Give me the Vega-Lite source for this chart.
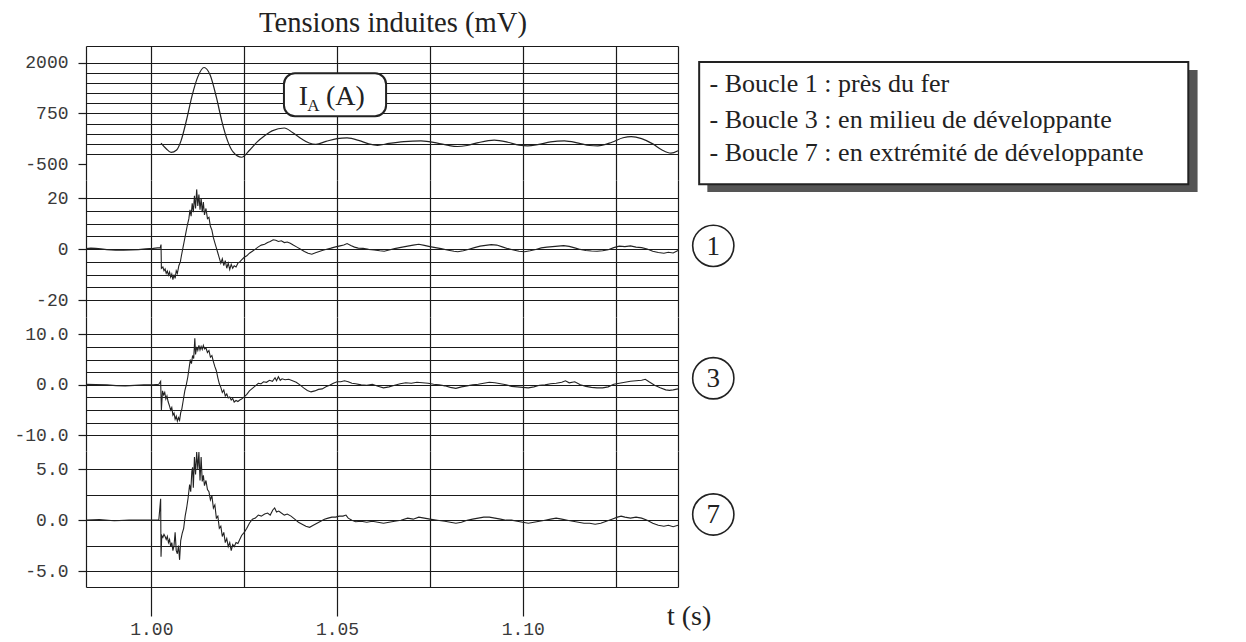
{
"$schema": "https://vega.github.io/schema/vega-lite/v6.json",
"background": "white",
"padding": {"left": 13, "top": 9, "right": 10, "bottom": 10},
"bounds": "flush",
"spacing": 0,
"title": {"text": "Tensions induites (mV)", "font": "Liberation Serif", "fontSize": 28.6, "fontWeight": "normal", "color": "#222", "anchor": "middle", "frame": "group", "offset": -1, "dx": 11},
"config": {
 "view": {"stroke": null},
 "axis": {"labelFont": "Liberation Mono", "labelFontSize": 18, "labelColor": "#3a3a3a", "gridColor": "#1a1a1a", "gridOpacity": 1, "gridWidth": 1.2, "tickColor": "#1a1a1a", "tickWidth": 1.2, "domainColor": "#1a1a1a", "domainWidth": 1.2, "labelOverlap": false, "labelBound": false, "labelFlush": false, "tickCount": 100}
},
"datasets": {
 "ia": [
  {"t":1.0026,"v":20},{"t":1.0040,"v":-120},{"t":1.0053,"v":-210},{"t":1.0068,"v":-150},{"t":1.0080,"v":80},{"t":1.0095,"v":600},{"t":1.0110,"v":1200},{"t":1.0125,"v":1650},{"t":1.0142,"v":1880},{"t":1.0158,"v":1700},{"t":1.0175,"v":1150},{"t":1.0190,"v":550},{"t":1.0205,"v":80},{"t":1.0220,"v":-200},{"t":1.0243,"v":-330},{"t":1.0265,"v":-150},{"t":1.0285,"v":50},{"t":1.0305,"v":200},{"t":1.0325,"v":320},{"t":1.0358,"v":390},{"t":1.0380,"v":280},{"t":1.0405,"v":120},{"t":1.0425,"v":20},{"t":1.0443,"v":-10},{"t":1.0470,"v":60},{"t":1.0500,"v":130},{"t":1.0527,"v":145},{"t":1.0560,"v":80},{"t":1.0585,"v":0},{"t":1.0609,"v":-35},{"t":1.0640,"v":10},{"t":1.0680,"v":55},{"t":1.0726,"v":75},{"t":1.0770,"v":20},{"t":1.0800,"v":-40},{"t":1.0824,"v":-65},{"t":1.0850,"v":-40},{"t":1.0880,"v":30},{"t":1.0923,"v":90},{"t":1.0960,"v":40},{"t":1.0990,"v":-30},{"t":1.1013,"v":-50},{"t":1.1040,"v":-20},{"t":1.1075,"v":50},{"t":1.1112,"v":75},{"t":1.1150,"v":20},{"t":1.1180,"v":-40},{"t":1.1202,"v":-50},{"t":1.1240,"v":40},{"t":1.1270,"v":150},{"t":1.1292,"v":180},{"t":1.1320,"v":130},{"t":1.1350,"v":0},{"t":1.1375,"v":-150},{"t":1.1399,"v":-230},{"t":1.1418,"v":-170}
 ],
 "b1": [
  {"t":0.9824,"v":0.2},{"t":0.9837,"v":0.4},{"t":0.9850,"v":0.3},{"t":0.9864,"v":0.1},{"t":0.9880,"v":-0.2},{"t":0.9904,"v":-0.4},{"t":0.9925,"v":-0.4},{"t":0.9945,"v":-0.3},{"t":0.9965,"v":-0.2},{"t":0.9985,"v":0.1},{"t":1.0005,"v":0.3},{"t":1.0017,"v":0.5},{"t":1.0024,"v":0.6},{"t":1.0026,"v":1.8},{"t":1.0027,"v":-7.5},{"t":1.0031,"v":-7.0},{"t":1.0034,"v":-8.5},{"t":1.0037,"v":-7.8},{"t":1.0040,"v":-9.5},{"t":1.0043,"v":-8.6},{"t":1.0046,"v":-10.2},{"t":1.0049,"v":-9.0},{"t":1.0052,"v":-11.0},{"t":1.0055,"v":-9.8},{"t":1.0058,"v":-12.0},{"t":1.0061,"v":-10.0},{"t":1.0064,"v":-11.5},{"t":1.0067,"v":-8.5},{"t":1.0070,"v":-9.5},{"t":1.0074,"v":-6.5},{"t":1.0078,"v":-5.0},{"t":1.0081,"v":-2.5},{"t":1.0085,"v":0.5},{"t":1.0089,"v":3.5},{"t":1.0093,"v":6.5},{"t":1.0097,"v":9.5},{"t":1.0101,"v":12.0},{"t":1.0104,"v":15.5},{"t":1.0107,"v":13.0},{"t":1.0110,"v":18.0},{"t":1.0113,"v":14.5},{"t":1.0116,"v":21.0},{"t":1.0119,"v":16.0},{"t":1.0122,"v":23.5},{"t":1.0125,"v":17.0},{"t":1.0128,"v":21.5},{"t":1.0131,"v":15.5},{"t":1.0134,"v":20.0},{"t":1.0137,"v":14.5},{"t":1.0140,"v":18.5},{"t":1.0143,"v":13.5},{"t":1.0147,"v":16.0},{"t":1.0151,"v":12.0},{"t":1.0155,"v":12.5},{"t":1.0159,"v":9.0},{"t":1.0163,"v":7.5},{"t":1.0167,"v":4.5},{"t":1.0171,"v":2.5},{"t":1.0175,"v":0.5},{"t":1.0179,"v":-1.5},{"t":1.0183,"v":-3.5},{"t":1.0187,"v":-5.5},{"t":1.0191,"v":-3.8},{"t":1.0195,"v":-6.5},{"t":1.0199,"v":-4.5},{"t":1.0203,"v":-7.5},{"t":1.0207,"v":-5.5},{"t":1.0211,"v":-8.0},{"t":1.0215,"v":-6.0},{"t":1.0219,"v":-7.5},{"t":1.0223,"v":-6.5},{"t":1.0228,"v":-7.0},{"t":1.0233,"v":-5.5},{"t":1.0238,"v":-5.0},{"t":1.0243,"v":-4.2},{"t":1.0250,"v":-3.2},{"t":1.0257,"v":-2.6},{"t":1.0264,"v":-1.6},{"t":1.0272,"v":-0.8},{"t":1.0280,"v":0.0},{"t":1.0288,"v":0.9},{"t":1.0296,"v":1.6},{"t":1.0305,"v":1.9},{"t":1.0313,"v":2.6},{"t":1.0320,"v":3.0},{"t":1.0328,"v":3.7},{"t":1.0335,"v":3.5},{"t":1.0342,"v":3.0},{"t":1.0350,"v":3.3},{"t":1.0358,"v":2.6},{"t":1.0366,"v":2.8},{"t":1.0374,"v":2.3},{"t":1.0382,"v":1.6},{"t":1.0392,"v":0.8},{"t":1.0402,"v":0.0},{"t":1.0412,"v":-0.9},{"t":1.0422,"v":-1.6},{"t":1.0432,"v":-2.0},{"t":1.0442,"v":-1.4},{"t":1.0452,"v":-0.9},{"t":1.0462,"v":-0.4},{"t":1.0472,"v":0.0},{"t":1.0484,"v":0.4},{"t":1.0496,"v":0.9},{"t":1.0508,"v":1.3},{"t":1.0518,"v":1.6},{"t":1.0527,"v":2.2},{"t":1.0537,"v":1.4},{"t":1.0547,"v":0.8},{"t":1.0557,"v":0.4},{"t":1.0570,"v":0.3},{"t":1.0585,"v":-0.1},{"t":1.0600,"v":-0.3},{"t":1.0615,"v":-0.6},{"t":1.0627,"v":-0.8},{"t":1.0640,"v":-0.3},{"t":1.0655,"v":0.2},{"t":1.0672,"v":0.7},{"t":1.0690,"v":1.2},{"t":1.0705,"v":1.6},{"t":1.0720,"v":1.9},{"t":1.0735,"v":1.5},{"t":1.0750,"v":1.0},{"t":1.0765,"v":0.6},{"t":1.0780,"v":0.2},{"t":1.0800,"v":-0.4},{"t":1.0815,"v":-0.8},{"t":1.0825,"v":-1.0},{"t":1.0840,"v":-0.6},{"t":1.0855,"v":0.0},{"t":1.0870,"v":0.6},{"t":1.0885,"v":1.2},{"t":1.0900,"v":1.5},{"t":1.0915,"v":1.8},{"t":1.0930,"v":1.6},{"t":1.0945,"v":0.9},{"t":1.0960,"v":0.2},{"t":1.0975,"v":-0.3},{"t":1.0990,"v":-0.8},{"t":1.1005,"v":-1.0},{"t":1.1020,"v":-0.6},{"t":1.1035,"v":-0.1},{"t":1.1050,"v":0.5},{"t":1.1065,"v":0.8},{"t":1.1080,"v":1.0},{"t":1.1095,"v":1.2},{"t":1.1110,"v":1.4},{"t":1.1125,"v":1.1},{"t":1.1140,"v":0.5},{"t":1.1155,"v":-0.1},{"t":1.1170,"v":-0.5},{"t":1.1185,"v":-0.7},{"t":1.1200,"v":-0.8},{"t":1.1215,"v":-0.6},{"t":1.1230,"v":-0.2},{"t":1.1245,"v":0.6},{"t":1.1260,"v":1.2},{"t":1.1275,"v":1.0},{"t":1.1290,"v":1.3},{"t":1.1305,"v":0.8},{"t":1.1320,"v":0.6},{"t":1.1335,"v":0.1},{"t":1.1350,"v":-0.8},{"t":1.1365,"v":-1.3},{"t":1.1380,"v":-1.6},{"t":1.1392,"v":-1.2},{"t":1.1405,"v":-1.5},{"t":1.1418,"v":-0.5}
 ],
 "b3": [
  {"t":0.9824,"v":0.1},{"t":0.9850,"v":0.05},{"t":0.9880,"v":0.0},{"t":0.9905,"v":-0.15},{"t":0.9930,"v":-0.2},{"t":0.9955,"v":-0.1},{"t":0.9980,"v":0.0},{"t":1.0005,"v":0.0},{"t":1.0020,"v":0.1},{"t":1.0025,"v":0.7},{"t":1.0027,"v":-5.0},{"t":1.0030,"v":-1.2},{"t":1.0033,"v":-2.0},{"t":1.0036,"v":-1.5},{"t":1.0039,"v":-2.8},{"t":1.0042,"v":-2.2},{"t":1.0045,"v":-3.3},{"t":1.0049,"v":-4.2},{"t":1.0052,"v":-5.0},{"t":1.0055,"v":-4.5},{"t":1.0058,"v":-6.0},{"t":1.0061,"v":-5.6},{"t":1.0064,"v":-6.8},{"t":1.0067,"v":-6.2},{"t":1.0070,"v":-7.2},{"t":1.0073,"v":-6.5},{"t":1.0076,"v":-7.0},{"t":1.0079,"v":-5.5},{"t":1.0082,"v":-4.8},{"t":1.0086,"v":-3.0},{"t":1.0090,"v":-1.2},{"t":1.0094,"v":0.0},{"t":1.0098,"v":1.5},{"t":1.0102,"v":3.5},{"t":1.0105,"v":5.0},{"t":1.0108,"v":4.2},{"t":1.0111,"v":5.8},{"t":1.0114,"v":5.2},{"t":1.0117,"v":9.2},{"t":1.0119,"v":6.0},{"t":1.0122,"v":7.5},{"t":1.0125,"v":6.8},{"t":1.0128,"v":7.8},{"t":1.0131,"v":6.9},{"t":1.0134,"v":7.6},{"t":1.0137,"v":7.0},{"t":1.0140,"v":7.8},{"t":1.0143,"v":7.1},{"t":1.0147,"v":7.3},{"t":1.0151,"v":6.4},{"t":1.0155,"v":6.8},{"t":1.0159,"v":5.5},{"t":1.0163,"v":5.8},{"t":1.0167,"v":4.6},{"t":1.0171,"v":3.6},{"t":1.0175,"v":2.8},{"t":1.0179,"v":1.4},{"t":1.0183,"v":0.2},{"t":1.0187,"v":-0.5},{"t":1.0191,"v":-1.5},{"t":1.0195,"v":-1.0},{"t":1.0199,"v":-2.2},{"t":1.0203,"v":-1.8},{"t":1.0207,"v":-2.6},{"t":1.0211,"v":-2.4},{"t":1.0215,"v":-3.0},{"t":1.0219,"v":-2.7},{"t":1.0223,"v":-3.4},{"t":1.0228,"v":-3.1},{"t":1.0233,"v":-3.3},{"t":1.0238,"v":-3.0},{"t":1.0243,"v":-2.8},{"t":1.0250,"v":-2.4},{"t":1.0257,"v":-1.9},{"t":1.0264,"v":-1.2},{"t":1.0272,"v":-0.7},{"t":1.0280,"v":-0.2},{"t":1.0288,"v":0.3},{"t":1.0295,"v":0.2},{"t":1.0302,"v":0.6},{"t":1.0310,"v":0.5},{"t":1.0318,"v":0.9},{"t":1.0326,"v":0.7},{"t":1.0333,"v":1.4},{"t":1.0337,"v":0.8},{"t":1.0342,"v":1.6},{"t":1.0347,"v":0.9},{"t":1.0352,"v":1.2},{"t":1.0360,"v":1.0},{"t":1.0370,"v":1.1},{"t":1.0380,"v":0.8},{"t":1.0390,"v":0.5},{"t":1.0400,"v":0.0},{"t":1.0410,"v":-0.6},{"t":1.0420,"v":-1.1},{"t":1.0430,"v":-1.4},{"t":1.0440,"v":-1.2},{"t":1.0450,"v":-0.9},{"t":1.0460,"v":-0.8},{"t":1.0470,"v":-0.4},{"t":1.0480,"v":-0.1},{"t":1.0490,"v":0.3},{"t":1.0500,"v":0.6},{"t":1.0510,"v":0.6},{"t":1.0520,"v":0.8},{"t":1.0530,"v":0.6},{"t":1.0540,"v":0.3},{"t":1.0550,"v":0.2},{"t":1.0565,"v":0.0},{"t":1.0580,"v":-0.1},{"t":1.0595,"v":0.1},{"t":1.0610,"v":-0.3},{"t":1.0625,"v":-0.6},{"t":1.0640,"v":-0.4},{"t":1.0655,"v":-0.1},{"t":1.0670,"v":0.2},{"t":1.0685,"v":0.4},{"t":1.0700,"v":0.3},{"t":1.0715,"v":0.5},{"t":1.0730,"v":0.4},{"t":1.0745,"v":0.3},{"t":1.0760,"v":0.1},{"t":1.0775,"v":0.0},{"t":1.0790,"v":-0.2},{"t":1.0805,"v":-0.5},{"t":1.0820,"v":-0.7},{"t":1.0835,"v":-0.4},{"t":1.0850,"v":-0.2},{"t":1.0865,"v":0.0},{"t":1.0880,"v":0.1},{"t":1.0895,"v":0.3},{"t":1.0910,"v":0.5},{"t":1.0925,"v":0.4},{"t":1.0940,"v":0.2},{"t":1.0955,"v":0.0},{"t":1.0970,"v":-0.3},{"t":1.0985,"v":-0.4},{"t":1.1000,"v":-0.5},{"t":1.1015,"v":-0.6},{"t":1.1030,"v":-0.4},{"t":1.1045,"v":-0.1},{"t":1.1060,"v":0.0},{"t":1.1075,"v":0.2},{"t":1.1090,"v":0.3},{"t":1.1105,"v":0.5},{"t":1.1115,"v":0.8},{"t":1.1125,"v":0.4},{"t":1.1140,"v":0.6},{"t":1.1155,"v":0.0},{"t":1.1170,"v":-0.3},{"t":1.1185,"v":-0.5},{"t":1.1200,"v":-0.6},{"t":1.1215,"v":-0.6},{"t":1.1230,"v":-0.4},{"t":1.1245,"v":0.1},{"t":1.1260,"v":0.3},{"t":1.1275,"v":0.5},{"t":1.1290,"v":0.7},{"t":1.1305,"v":0.8},{"t":1.1320,"v":0.9},{"t":1.1330,"v":1.1},{"t":1.1340,"v":0.6},{"t":1.1355,"v":-0.1},{"t":1.1370,"v":-0.6},{"t":1.1385,"v":-1.0},{"t":1.1395,"v":-1.1},{"t":1.1405,"v":-1.0},{"t":1.1418,"v":-0.8}
 ],
 "b7": [
  {"t":0.9824,"v":0.0},{"t":0.9860,"v":0.05},{"t":0.9900,"v":-0.05},{"t":0.9940,"v":0.0},{"t":0.9980,"v":0.0},{"t":1.0020,"v":0.0},{"t":1.0025,"v":2.1},{"t":1.0026,"v":-3.6},{"t":1.0028,"v":-1.5},{"t":1.0031,"v":-1.7},{"t":1.0034,"v":-1.4},{"t":1.0037,"v":-1.6},{"t":1.0040,"v":-1.9},{"t":1.0043,"v":-1.6},{"t":1.0046,"v":-2.2},{"t":1.0049,"v":-1.9},{"t":1.0052,"v":-2.6},{"t":1.0055,"v":-2.2},{"t":1.0058,"v":-3.0},{"t":1.0061,"v":-2.5},{"t":1.0064,"v":-1.2},{"t":1.0067,"v":-3.0},{"t":1.0070,"v":-3.3},{"t":1.0073,"v":-2.5},{"t":1.0076,"v":-3.9},{"t":1.0079,"v":-2.0},{"t":1.0083,"v":-1.3},{"t":1.0087,"v":-0.8},{"t":1.0091,"v":0.4},{"t":1.0095,"v":1.2},{"t":1.0099,"v":2.2},{"t":1.0103,"v":3.5},{"t":1.0106,"v":2.8},{"t":1.0109,"v":4.8},{"t":1.0111,"v":5.2},{"t":1.0113,"v":3.2},{"t":1.0116,"v":6.2},{"t":1.0119,"v":4.5},{"t":1.0122,"v":6.7},{"t":1.0125,"v":5.0},{"t":1.0128,"v":6.7},{"t":1.0131,"v":3.9},{"t":1.0134,"v":6.2},{"t":1.0137,"v":3.8},{"t":1.0140,"v":4.4},{"t":1.0143,"v":3.4},{"t":1.0147,"v":3.9},{"t":1.0151,"v":3.0},{"t":1.0155,"v":2.8},{"t":1.0159,"v":2.0},{"t":1.0163,"v":2.4},{"t":1.0167,"v":1.2},{"t":1.0171,"v":1.5},{"t":1.0175,"v":0.2},{"t":1.0179,"v":0.4},{"t":1.0183,"v":-0.8},{"t":1.0187,"v":-0.6},{"t":1.0191,"v":-1.6},{"t":1.0195,"v":-1.2},{"t":1.0199,"v":-2.2},{"t":1.0203,"v":-1.8},{"t":1.0207,"v":-2.6},{"t":1.0211,"v":-2.2},{"t":1.0215,"v":-3.0},{"t":1.0219,"v":-2.4},{"t":1.0223,"v":-2.6},{"t":1.0228,"v":-2.2},{"t":1.0233,"v":-2.3},{"t":1.0238,"v":-1.9},{"t":1.0243,"v":-1.5},{"t":1.0250,"v":-1.2},{"t":1.0257,"v":-0.8},{"t":1.0264,"v":-0.3},{"t":1.0272,"v":0.1},{"t":1.0280,"v":0.2},{"t":1.0288,"v":0.5},{"t":1.0296,"v":0.4},{"t":1.0305,"v":0.6},{"t":1.0313,"v":0.7},{"t":1.0320,"v":0.5},{"t":1.0327,"v":1.0},{"t":1.0332,"v":1.2},{"t":1.0337,"v":0.8},{"t":1.0343,"v":0.9},{"t":1.0350,"v":0.7},{"t":1.0358,"v":0.5},{"t":1.0366,"v":0.6},{"t":1.0376,"v":0.4},{"t":1.0386,"v":0.1},{"t":1.0396,"v":-0.2},{"t":1.0406,"v":-0.4},{"t":1.0416,"v":-0.6},{"t":1.0426,"v":-0.7},{"t":1.0436,"v":-0.5},{"t":1.0446,"v":-0.3},{"t":1.0456,"v":-0.1},{"t":1.0466,"v":0.1},{"t":1.0476,"v":0.2},{"t":1.0486,"v":0.3},{"t":1.0496,"v":0.3},{"t":1.0506,"v":0.4},{"t":1.0516,"v":0.4},{"t":1.0524,"v":0.5},{"t":1.0530,"v":0.2},{"t":1.0540,"v":0.0},{"t":1.0550,"v":-0.15},{"t":1.0565,"v":-0.1},{"t":1.0580,"v":-0.2},{"t":1.0595,"v":-0.1},{"t":1.0610,"v":-0.2},{"t":1.0625,"v":-0.3},{"t":1.0640,"v":-0.2},{"t":1.0655,"v":-0.1},{"t":1.0672,"v":0.0},{"t":1.0690,"v":0.2},{"t":1.0705,"v":0.1},{"t":1.0720,"v":0.3},{"t":1.0735,"v":0.2},{"t":1.0750,"v":0.1},{"t":1.0770,"v":0.0},{"t":1.0790,"v":-0.1},{"t":1.0805,"v":-0.2},{"t":1.0820,"v":-0.3},{"t":1.0835,"v":-0.2},{"t":1.0850,"v":0.0},{"t":1.0865,"v":0.1},{"t":1.0880,"v":0.2},{"t":1.0895,"v":0.3},{"t":1.0910,"v":0.3},{"t":1.0925,"v":0.2},{"t":1.0940,"v":0.1},{"t":1.0955,"v":0.0},{"t":1.0970,"v":0.0},{"t":1.0985,"v":-0.1},{"t":1.1000,"v":-0.2},{"t":1.1015,"v":-0.3},{"t":1.1030,"v":-0.2},{"t":1.1045,"v":-0.1},{"t":1.1060,"v":0.0},{"t":1.1075,"v":0.1},{"t":1.1090,"v":0.2},{"t":1.1105,"v":0.1},{"t":1.1120,"v":0.0},{"t":1.1135,"v":-0.1},{"t":1.1150,"v":-0.2},{"t":1.1165,"v":-0.3},{"t":1.1180,"v":-0.3},{"t":1.1195,"v":-0.4},{"t":1.1210,"v":-0.3},{"t":1.1225,"v":-0.1},{"t":1.1240,"v":0.1},{"t":1.1255,"v":0.3},{"t":1.1265,"v":0.4},{"t":1.1275,"v":0.3},{"t":1.1290,"v":0.2},{"t":1.1305,"v":0.3},{"t":1.1320,"v":0.2},{"t":1.1335,"v":0.0},{"t":1.1350,"v":-0.3},{"t":1.1365,"v":-0.5},{"t":1.1380,"v":-0.6},{"t":1.1392,"v":-0.5},{"t":1.1405,"v":-0.65},{"t":1.1418,"v":-0.5}
 ],
 "iabox": [{"t":1.0357,"t2":1.0632,"v":1738,"v2":679}],
 "iaI": [{"t":1.0397,"v":950,"label":"I"}],
 "iaSub": [{"t":1.0420,"v":800,"label":"A"}],
 "iaRest": [{"t":1.0470,"v":950,"label":"(A)"}],
 "lshadow": [{"t":1.1497,"t2":1.2817,"v":1819,"v2":-1186}],
 "lbox": [{"t":1.1475,"t2":1.2792,"v":2016,"v2":-996}],
 "ltext": [
  {"t":1.1503,"v":1270,"label":"- Boucle 1 : près du fer"},
  {"t":1.1503,"v":383,"label":"- Boucle 3 : en milieu de développante"},
  {"t":1.1503,"v":-430,"label":"- Boucle 7 : en extrémité de développante"}
 ],
 "c1": [{"t":1.1513,"v":1.3,"label":"1"}],
 "c3": [{"t":1.1513,"v":1.3,"label":"3"}],
 "c7": [{"t":1.1513,"v":0.56,"label":"7"}],
 "tlab": [{"t":1.1448,"v":-10.3,"label":"t (s)"}]
},
"vconcat": [
 {
  "width": 592, "height": 134,
  "layer": [
   {"data": {"name": "ia"}, "mark": {"type": "line", "color": "#222", "strokeWidth": 1.2, "interpolate": "monotone"},
    "encoding": {
     "x": {"field": "t", "type": "quantitative", "scale": {"domain": [0.9824, 1.1418], "nice": false, "zero": false},
      "axis": {"title": null, "values": [0.9824, 1.0, 1.025, 1.05, 1.075, 1.1, 1.125, 1.1418], "grid": true, "labels": false, "ticks": false, "domain": false, "tickCount": 100}},
     "y": {"field": "v", "type": "quantitative", "scale": {"domain": [-890, 2410], "nice": false, "zero": false},
      "axis": {"title": null, "values": [2410, 2000, 1750, 1500, 1250, 1000, 750, 500, 250, 0, -250, -500], "tickCount": 100, "grid": true, "domain": false, "tickSize": 8, "labelPadding": 10,
       "labelExpr": "(datum.value==2000||datum.value==750||datum.value==-500) ? replace(format(datum.value,'d'),'−','-') : ''",
       "tickOpacity": {"condition": {"test": "datum.value==2000||datum.value==750||datum.value==-500", "value": 1}, "value": 0},
       "gridOpacity": {"condition": {"test": "datum.value==-500", "value": 0}, "value": 1}}}
    }},
   {"data": {"name": "iabox"}, "mark": {"type": "rect", "fill": "white", "stroke": "#222", "strokeWidth": 2, "cornerRadius": 11},
    "encoding": {"x": {"field": "t", "type": "quantitative"}, "x2": {"field": "t2"}, "y": {"field": "v", "type": "quantitative"}, "y2": {"field": "v2"}}},
   {"data": {"name": "iaI"}, "mark": {"type": "text", "font": "Liberation Serif", "fontSize": 28, "color": "#222", "align": "left", "baseline": "alphabetic"},
    "encoding": {"x": {"field": "t", "type": "quantitative"}, "y": {"field": "v", "type": "quantitative"}, "text": {"field": "label"}}},
   {"data": {"name": "iaSub"}, "mark": {"type": "text", "font": "Liberation Serif", "fontSize": 17, "color": "#222", "align": "left", "baseline": "alphabetic"},
    "encoding": {"x": {"field": "t", "type": "quantitative"}, "y": {"field": "v", "type": "quantitative"}, "text": {"field": "label"}}},
   {"data": {"name": "iaRest"}, "mark": {"type": "text", "font": "Liberation Serif", "fontSize": 28, "color": "#222", "align": "left", "baseline": "alphabetic"},
    "encoding": {"x": {"field": "t", "type": "quantitative"}, "y": {"field": "v", "type": "quantitative"}, "text": {"field": "label"}}},
   {"data": {"name": "lshadow"}, "mark": {"type": "rect", "fill": "#555", "stroke": null},
    "encoding": {"x": {"field": "t", "type": "quantitative"}, "x2": {"field": "t2"}, "y": {"field": "v", "type": "quantitative"}, "y2": {"field": "v2"}}},
   {"data": {"name": "lbox"}, "mark": {"type": "rect", "fill": "white", "stroke": "#222", "strokeWidth": 2},
    "encoding": {"x": {"field": "t", "type": "quantitative"}, "x2": {"field": "t2"}, "y": {"field": "v", "type": "quantitative"}, "y2": {"field": "v2"}}},
   {"data": {"name": "ltext"}, "mark": {"type": "text", "font": "Liberation Serif", "fontSize": 26, "color": "#222", "align": "left", "baseline": "alphabetic"},
    "encoding": {"x": {"field": "t", "type": "quantitative"}, "y": {"field": "v", "type": "quantitative"}, "text": {"field": "label"}}}
  ]
 },
 {
  "width": 592, "height": 137,
  "layer": [
   {"data": {"name": "b1"}, "mark": {"type": "line", "color": "#222", "strokeWidth": 1.1},
    "encoding": {
     "x": {"field": "t", "type": "quantitative", "scale": {"domain": [0.9824, 1.1418], "nice": false, "zero": false},
      "axis": {"title": null, "values": [0.9824, 1.0, 1.025, 1.05, 1.075, 1.1, 1.125, 1.1418], "grid": true, "labels": false, "ticks": false, "domain": false, "tickCount": 100}},
     "y": {"field": "v", "type": "quantitative", "scale": {"domain": [-26.68, 27.2], "nice": false, "zero": false},
      "axis": {"title": null, "values": [20, 15, 10, 5, 0, -5, -10, -15, -20], "tickCount": 100, "grid": true, "domain": false, "tickSize": 8, "labelPadding": 10,
       "labelExpr": "(datum.value==20||datum.value==0||datum.value==-20) ? replace(format(datum.value,'d'),'−','-') : ''",
       "tickOpacity": {"condition": {"test": "datum.value==20||datum.value==0||datum.value==-20", "value": 1}, "value": 0}}}
    }},
   {"data": {"name": "c1"}, "mark": {"type": "point", "shape": "circle", "size": 1700, "filled": false, "stroke": "#222", "strokeWidth": 1.6, "opacity": 1},
    "encoding": {"x": {"field": "t", "type": "quantitative"}, "y": {"field": "v", "type": "quantitative"}}},
   {"data": {"name": "c1"}, "mark": {"type": "text", "font": "Liberation Serif", "fontSize": 27, "color": "#222", "align": "center", "baseline": "middle", "dy": 1},
    "encoding": {"x": {"field": "t", "type": "quantitative"}, "y": {"field": "v", "type": "quantitative"}, "text": {"field": "label"}}}
  ]
 },
 {
  "width": 592, "height": 134,
  "layer": [
   {"data": {"name": "b3"}, "mark": {"type": "line", "color": "#222", "strokeWidth": 1.1},
    "encoding": {
     "x": {"field": "t", "type": "quantitative", "scale": {"domain": [0.9824, 1.1418], "nice": false, "zero": false},
      "axis": {"title": null, "values": [0.9824, 1.0, 1.025, 1.05, 1.075, 1.1, 1.125, 1.1418], "grid": true, "labels": false, "ticks": false, "domain": false, "tickCount": 100}},
     "y": {"field": "v", "type": "quantitative", "scale": {"domain": [-13.1, 13.43], "nice": false, "zero": false},
      "axis": {"title": null, "values": [10, 7.5, 5, 2.5, 0, -2.5, -5, -7.5, -10], "tickCount": 100, "grid": true, "domain": false, "tickSize": 8, "labelPadding": 10,
       "labelExpr": "(datum.value==10||datum.value==0||datum.value==-10) ? replace(format(datum.value,'.1f'),'−','-') : ''",
       "tickOpacity": {"condition": {"test": "datum.value==10||datum.value==0||datum.value==-10", "value": 1}, "value": 0}}}
    }},
   {"data": {"name": "c3"}, "mark": {"type": "point", "shape": "circle", "size": 1700, "filled": false, "stroke": "#222", "strokeWidth": 1.6, "opacity": 1},
    "encoding": {"x": {"field": "t", "type": "quantitative"}, "y": {"field": "v", "type": "quantitative"}}},
   {"data": {"name": "c3"}, "mark": {"type": "text", "font": "Liberation Serif", "fontSize": 27, "color": "#222", "align": "center", "baseline": "middle", "dy": 1},
    "encoding": {"x": {"field": "t", "type": "quantitative"}, "y": {"field": "v", "type": "quantitative"}, "text": {"field": "label"}}}
  ]
 },
 {
  "width": 592, "height": 136,
  "layer": [
   {"data": {"name": "b7"}, "mark": {"type": "line", "color": "#222", "strokeWidth": 1.1},
    "encoding": {
     "x": {"field": "t", "type": "quantitative", "scale": {"domain": [0.9824, 1.1418], "nice": false, "zero": false},
      "axis": {"title": null, "values": [0.9824, 1.0, 1.025, 1.05, 1.075, 1.1, 1.125, 1.1418], "tickCount": 100, "grid": true, "domain": true, "tickSize": 29, "labelPadding": 4,
       "labelExpr": "(abs(datum.value-1.0)<0.0001||abs(datum.value-1.05)<0.0001||abs(datum.value-1.1)<0.0001) ? format(datum.value,'.2f') : ''",
       "tickOpacity": {"condition": {"test": "abs(datum.value-1.0)<0.0001||abs(datum.value-1.05)<0.0001||abs(datum.value-1.1)<0.0001", "value": 1}, "value": 0}}},
     "y": {"field": "v", "type": "quantitative", "scale": {"domain": [-6.57, 6.8], "nice": false, "zero": false},
      "axis": {"title": null, "values": [5, 2.5, 0, -2.5, -5], "tickCount": 100, "grid": true, "domain": false, "tickSize": 8, "labelPadding": 10,
       "labelExpr": "(datum.value==5||datum.value==0||datum.value==-5) ? replace(format(datum.value,'.1f'),'−','-') : ''",
       "tickOpacity": {"condition": {"test": "datum.value==5||datum.value==0||datum.value==-5", "value": 1}, "value": 0}}}
    }},
   {"data": {"name": "c7"}, "mark": {"type": "point", "shape": "circle", "size": 1700, "filled": false, "stroke": "#222", "strokeWidth": 1.6, "opacity": 1},
    "encoding": {"x": {"field": "t", "type": "quantitative"}, "y": {"field": "v", "type": "quantitative"}}},
   {"data": {"name": "c7"}, "mark": {"type": "text", "font": "Liberation Serif", "fontSize": 27, "color": "#222", "align": "center", "baseline": "middle", "dy": 1},
    "encoding": {"x": {"field": "t", "type": "quantitative"}, "y": {"field": "v", "type": "quantitative"}, "text": {"field": "label"}}},
   {"data": {"name": "tlab"}, "mark": {"type": "text", "font": "Liberation Serif", "fontSize": 28, "color": "#222", "align": "center", "baseline": "alphabetic"},
    "encoding": {"x": {"field": "t", "type": "quantitative"}, "y": {"field": "v", "type": "quantitative"}, "text": {"field": "label"}}}
  ]
 }
]
}
